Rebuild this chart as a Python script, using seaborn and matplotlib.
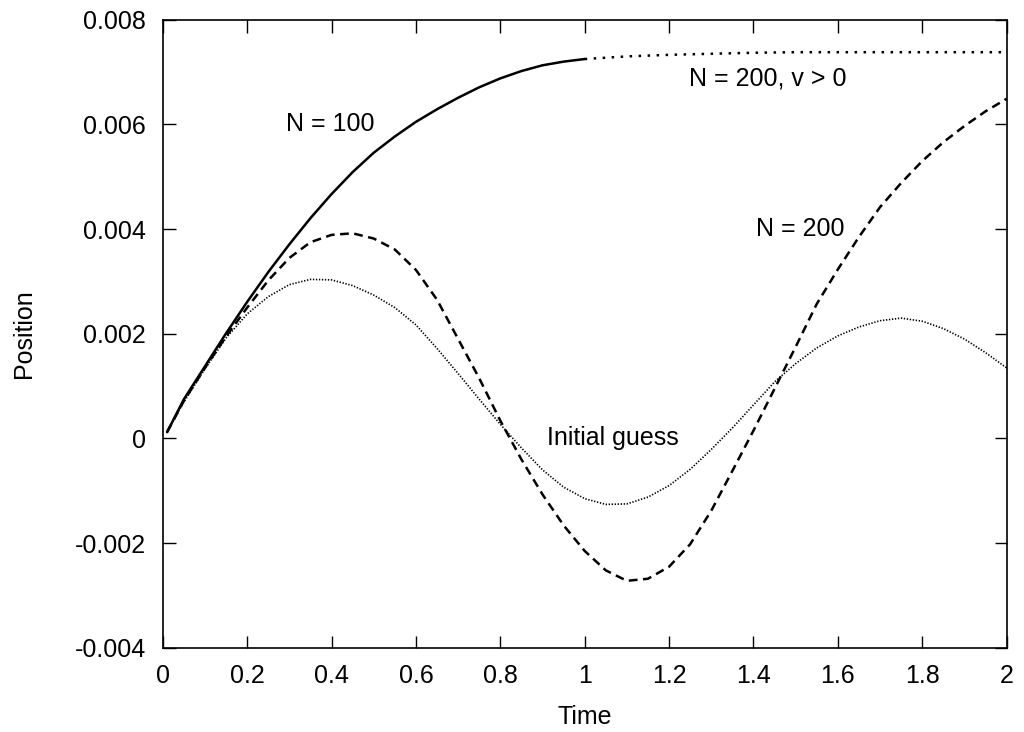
import matplotlib
matplotlib.use("Agg")
import matplotlib.pyplot as plt
import seaborn as sns
import numpy as np

# values
t_n100 = [0.01, 0.05, 0.1, 0.15, 0.2, 0.25, 0.3, 0.35, 0.4, 0.45, 0.5, 0.55, 0.6,
          0.65, 0.7, 0.75, 0.8, 0.85, 0.9, 0.95, 1.0]
pos_n100 = [0.00012, 0.00075, 0.00138, 0.00201, 0.00261, 0.00318, 0.00371, 0.00421,
            0.00467, 0.00509, 0.00546, 0.00577, 0.00605, 0.00629, 0.00651, 0.00671,
            0.00688, 0.00702, 0.00713, 0.0072, 0.00725]

t_vpos = [1.0, 1.1, 1.2, 1.3, 1.4, 1.5, 1.6, 1.7, 1.8, 1.9, 2.0]
pos_vpos = [0.00725, 0.0073, 0.00733, 0.00735, 0.00737, 0.00738, 0.00738, 0.00738,
            0.00738, 0.00738, 0.00738]

t_n200 = [0.01, 0.05, 0.1, 0.15, 0.2, 0.25, 0.3, 0.35, 0.4, 0.45, 0.5, 0.55, 0.6,
          0.65, 0.7, 0.75, 0.8, 0.85, 0.9, 0.95, 1.0, 1.05, 1.1, 1.15, 1.2, 1.25,
          1.3, 1.35, 1.4, 1.45, 1.5, 1.55, 1.6, 1.65, 1.7, 1.75, 1.8, 1.85, 1.9,
          1.95, 2.0]
pos_n200 = [0.00012, 0.00072, 0.00135, 0.00195, 0.0025, 0.00302, 0.00345, 0.00375,
            0.00389, 0.00392, 0.00382, 0.00361, 0.00322, 0.00265, 0.0019, 0.00115,
            0.00034, -0.0004, -0.00107, -0.00166, -0.00215, -0.00252, -0.00272,
            -0.00268, -0.00245, -0.00202, -0.00138, -0.00062, 0.00015, 0.00095,
            0.00175, 0.00257, 0.00323, 0.00385, 0.00442, 0.00488, 0.0053,
            0.00566, 0.00597, 0.00625, 0.00649]

t_guess = [0.01, 0.05, 0.1, 0.15, 0.2, 0.25, 0.3, 0.35, 0.4, 0.45, 0.5, 0.55, 0.6,
           0.65, 0.7, 0.75, 0.8, 0.85, 0.9, 0.95, 1.0, 1.05, 1.1, 1.15, 1.2, 1.25,
           1.3, 1.35, 1.4, 1.45, 1.5, 1.55, 1.6, 1.65, 1.7, 1.75, 1.8, 1.85, 1.9,
           1.95, 2.0]
pos_guess = [0.00012, 0.0007, 0.00133, 0.00192, 0.00238, 0.00271, 0.00294, 0.00304,
             0.00303, 0.00292, 0.00274, 0.0025, 0.00217, 0.00172, 0.00124, 0.00075,
             0.00027, -0.00018, -0.0006, -0.00093, -0.00115, -0.00126, -0.00125,
             -0.00112, -0.0009, -0.00059, -0.00021, 0.0002, 0.00064, 0.00108,
             0.00143, 0.00173, 0.00196, 0.00213, 0.00225, 0.0023, 0.00224,
             0.0021, 0.0019, 0.00164, 0.00135]

x_ticks = [0, 0.2, 0.4, 0.6, 0.8, 1, 1.2, 1.4, 1.6, 1.8, 2]
x_ticklabels = ["0", "0.2", "0.4", "0.6", "0.8", "1", "1.2", "1.4", "1.6", "1.8", "2"]
y_ticks = [-0.004, -0.002, 0, 0.002, 0.004, 0.006, 0.008]
y_ticklabels = ["-0.004", "-0.002", "0", "0.002", "0.004", "0.006", "0.008"]

sns.set_style("ticks")
plt.rcParams['font.family'] = ['Liberation Sans', 'DejaVu Sans']
plt.rcParams['text.color'] = 'black'
plt.rcParams['axes.labelcolor'] = 'black'
fs = 18

fig = plt.figure(figsize=(10.24, 7.32), dpi=100)
ax = fig.add_axes([0.159, 0.115, 0.824, 0.858])

sns.lineplot(x=t_n100, y=pos_n100, ax=ax, color="black", lw=1.8, sort=False)
sns.lineplot(x=t_vpos, y=pos_vpos, ax=ax, color="black", lw=1.8,
             linestyle=(0, (1, 2.6)), sort=False)
sns.lineplot(x=t_n200, y=pos_n200, ax=ax, color="black", lw=1.8,
             linestyle=(0, (3.5, 2.2)), sort=False)
sns.lineplot(x=t_guess, y=pos_guess, ax=ax, color="black", lw=1.2,
             linestyle=(0, (0.8, 1.0)), sort=False)

ax.text(0.396, 0.0060, "N = 100", fontsize=fs, ha="center", va="center", color="black")
ax.text(1.434, 0.00688, "N = 200, v > 0", fontsize=fs, ha="center", va="center", color="black")
ax.text(1.512, 0.0040, "N = 200", fontsize=fs, ha="center", va="center", color="black")
ax.text(1.066, 0.0000, "Initial guess", fontsize=fs, ha="center", va="center", color="black")

ax.set_xlim(0, 2)
ax.set_ylim(-0.004, 0.008)
ax.set_xticks(x_ticks)
ax.set_xticklabels(x_ticklabels)
ax.set_yticks(y_ticks)
ax.set_yticklabels(y_ticklabels)
ax.tick_params(direction="in", length=9, width=1, top=True, right=True,
               labelsize=fs, pad=12, colors="black")
for axis in ['top', 'bottom', 'left', 'right']:
    ax.spines[axis].set_linewidth(1.2)
    ax.spines[axis].set_color("black")
ax.set_xlabel("Time", fontsize=fs, labelpad=12, color="black")
ax.set_ylabel("Position", fontsize=fs, labelpad=28, color="black")

fig.savefig("out.png", dpi=100)
